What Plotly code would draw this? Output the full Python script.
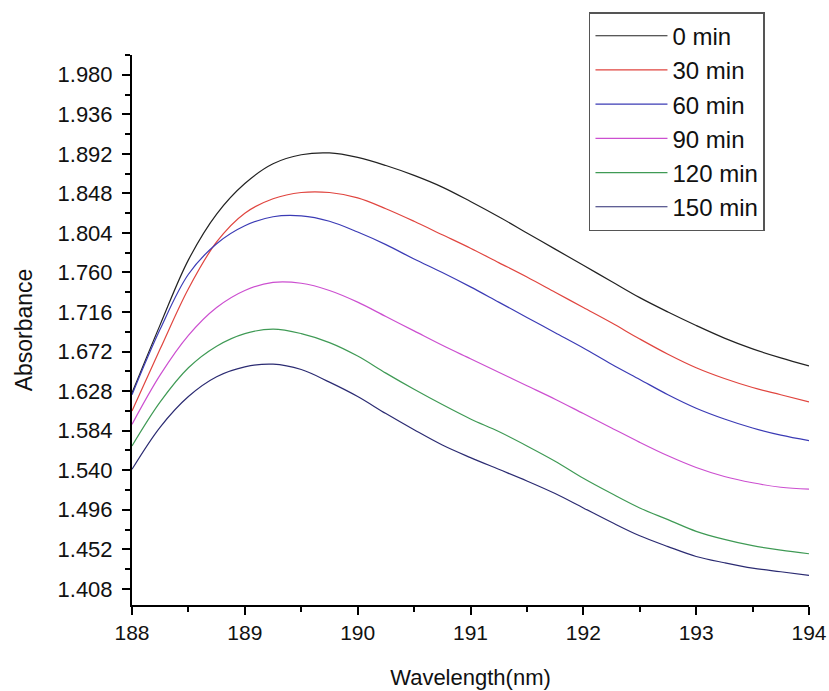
import plotly.graph_objects as go

wavelength = [188.0, 188.25, 188.5, 188.75, 189.0, 189.25, 189.5, 189.75, 190.0, 190.25,
              190.5, 190.75, 191.0, 191.25, 191.5, 191.75, 192.0, 192.25, 192.5, 192.75,
              193.0, 193.25, 193.5, 193.75, 194.0]

abs_0 = [1.626, 1.702, 1.774, 1.825, 1.859, 1.881, 1.891, 1.893, 1.888, 1.879,
         1.868, 1.855, 1.839, 1.822, 1.804, 1.786, 1.768, 1.750, 1.732, 1.716,
         1.701, 1.687, 1.675, 1.665, 1.656]
abs_30 = [1.606, 1.675, 1.742, 1.794, 1.826, 1.842, 1.849, 1.849, 1.843, 1.831,
          1.817, 1.802, 1.787, 1.771, 1.755, 1.738, 1.721, 1.704, 1.686, 1.669,
          1.654, 1.642, 1.632, 1.624, 1.616]
abs_60 = [1.624, 1.697, 1.758, 1.792, 1.812, 1.822, 1.823, 1.817, 1.805, 1.791,
          1.775, 1.760, 1.744, 1.727, 1.710, 1.693, 1.676, 1.658, 1.641, 1.624,
          1.609, 1.597, 1.587, 1.579, 1.573]
abs_90 = [1.591, 1.646, 1.690, 1.721, 1.740, 1.749, 1.748, 1.740, 1.727, 1.711,
          1.695, 1.679, 1.664, 1.649, 1.634, 1.619, 1.603, 1.587, 1.571, 1.556,
          1.543, 1.533, 1.526, 1.521, 1.519]
abs_120 = [1.567, 1.616, 1.654, 1.678, 1.692, 1.697, 1.692, 1.682, 1.667, 1.648,
           1.630, 1.613, 1.597, 1.583, 1.567, 1.550, 1.531, 1.514, 1.498, 1.485,
           1.472, 1.463, 1.456, 1.451, 1.447]
abs_150 = [1.541, 1.588, 1.622, 1.644, 1.655, 1.658, 1.652, 1.638, 1.622, 1.603,
           1.585, 1.568, 1.554, 1.541, 1.528, 1.514, 1.498, 1.482, 1.467, 1.455,
           1.444, 1.437, 1.431, 1.427, 1.423]

series_names = ["0 min", "30 min", "60 min", "90 min", "120 min", "150 min"]
series_values = [abs_0, abs_30, abs_60, abs_90, abs_120, abs_150]
series_colors = ["#222222", "#e0453f", "#3b3bb5", "#cc4fd0", "#3f9a55", "#2b2b72"]

y_ticks = [1.408, 1.452, 1.496, 1.540, 1.584, 1.628, 1.672, 1.716, 1.760, 1.804,
           1.848, 1.892, 1.936, 1.980]
x_ticks = [188, 189, 190, 191, 192, 193, 194]

fig = go.Figure()
for name, vals, col in zip(series_names, series_values, series_colors):
    fig.add_trace(go.Scatter(x=wavelength, y=vals, mode="lines", name=name,
                             line=dict(color=col, width=1.2, shape="spline", smoothing=1.0)))

font_family = "Liberation Sans, Arial, sans-serif"
fig.update_layout(
    width=829, height=691,
    margin=dict(l=132, r=20, t=53, b=86),
    paper_bgcolor="white", plot_bgcolor="white",
    font=dict(family=font_family, color="#111111"),
    showlegend=True,
    legend=dict(x=0.675, y=1.0779, xanchor="left", yanchor="top",
                bgcolor="white", bordercolor="#555555", borderwidth=1.5,
                font=dict(size=24, family=font_family), tracegroupgap=0,
                itemwidth=72),
    xaxis=dict(range=[188, 194], tickvals=x_ticks, ticktext=[str(v) for v in x_ticks],
               automargin=False,
               showgrid=False, zeroline=False, showline=True, linecolor="black", linewidth=2,
               ticks="outside", ticklen=8, tickwidth=1.5, tickcolor="black",
               tickfont=dict(size=21),
               minor=dict(dtick=0.5, tick0=188, ticks="outside", ticklen=5, tickwidth=1.5,
                          tickcolor="black", showgrid=False),
               title=dict(text="Wavelength(nm)", font=dict(size=22), standoff=26)),
    yaxis=dict(range=[1.390, 2.002], tickvals=y_ticks, ticktext=[f"{v:.3f}" for v in y_ticks],
               automargin=False,
               showgrid=False, zeroline=False, showline=True, linecolor="black", linewidth=2,
               ticks="outside", ticklen=8, tickwidth=1.5, tickcolor="black",
               tickfont=dict(size=22), ticklabelstandoff=5,
               minor=dict(dtick=0.022, tick0=1.386, ticks="outside", ticklen=5, tickwidth=1.5,
                          tickcolor="black", showgrid=False),
               title=dict(text="Absorbance", font=dict(size=23), standoff=18)),
)

fig.write_html("out.html", config={"displayModeBar": False},
               post_script="document.body.style.margin='0';document.body.style.overflow='hidden';")
